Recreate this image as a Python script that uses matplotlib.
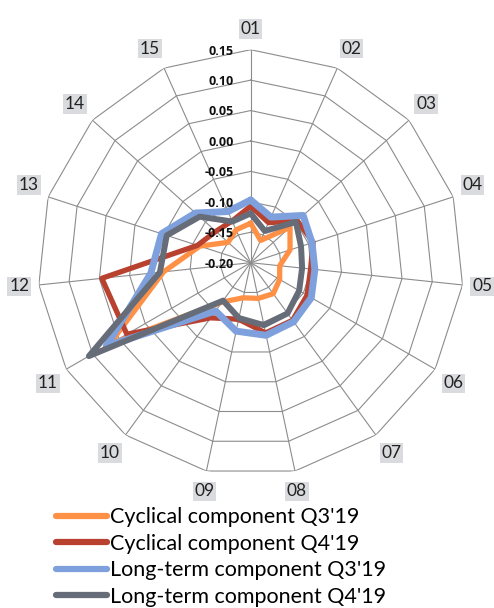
import numpy as np
import matplotlib
matplotlib.use("Agg")
import matplotlib.pyplot as plt

plt.rcParams["font.family"] = ["Lato", "DejaVu Sans"]

# data
categories = ["01", "02", "03", "04", "05", "06", "07", "08",
              "09", "10", "11", "12", "13", "14", "15"]
cyclical_q3 = [-0.135, -0.160, -0.113, -0.132, -0.152, -0.145, -0.137, -0.140,
               -0.141, -0.120, 0.068, -0.056, -0.112, -0.150, -0.141]
cyclical_q4 = [-0.107, -0.128, -0.097, -0.092, -0.101, -0.093, -0.083, -0.082,
               -0.105, -0.088, 0.035, 0.046, -0.108, -0.123, -0.125]
longterm_q3 = [-0.097, -0.118, -0.084, -0.094, -0.094, -0.085, -0.080, -0.078,
               -0.085, -0.102, 0.074, -0.035, -0.046, -0.078, -0.108]
longterm_q4 = [-0.119, -0.143, -0.100, -0.113, -0.115, -0.108, -0.097, -0.095,
               -0.107, -0.123, 0.107, -0.050, -0.055, -0.087, -0.126]
ring_values = [-0.20, -0.15, -0.10, -0.05, 0.00, 0.05, 0.10, 0.15]
series_labels = ["Cyclical component Q3'19", "Cyclical component Q4'19",
                 "Long-term component Q3'19", "Long-term component Q4'19"]

series = [cyclical_q3, cyclical_q4, longterm_q3, longterm_q4]
colors = ["#FF9147", "#B8412F", "#7EA0DC", "#676D78"]
widths = [3.8, 3.8, 5.0, 4.3]

n = len(categories)
theta = np.arange(n) * 2 * np.pi / n
theta_c = np.append(theta, theta[0])
rmin, rmax = ring_values[0], ring_values[-1]

fig = plt.figure(figsize=(4.94, 6.08), dpi=100)
ax = fig.add_axes([0.0763, 0.2176, 0.8623, 0.7007], projection="polar")
ax.set_theta_zero_location("N")
ax.set_theta_direction(-1)
ax.set_ylim(rmin, rmax)
ax.grid(False)
ax.spines["polar"].set_visible(False)
ax.set_xticks([])
ax.set_yticks([])

grid_col = "#8C8C8C"
for v in ring_values[1:]:
    ax.plot(theta_c, [v] * (n + 1), color=grid_col, lw=0.8, zorder=1)
for t in theta:
    ax.plot([t, t], [rmin, rmax], color=grid_col, lw=0.8, zorder=1)

lines = []
for vals, col, lw, lab in zip(series, colors, widths, series_labels):
    (ln,) = ax.plot(theta_c, np.append(vals, vals[0]), color=col, lw=lw,
                    solid_joinstyle="round", solid_capstyle="round",
                    label=lab, zorder=3)
    lines.append(ln)

# radial value labels along the top spoke
for v in ring_values:
    ax.annotate(f"{v:.2f}", xy=(0, v), xytext=(-12, -1), textcoords="offset points",
                ha="right", va="center", fontsize=9, fontweight="bold",
                family=["Open Sans", "DejaVu Sans"], color="#111111", zorder=5)

# category labels in grey boxes
for t, lab in zip(theta, categories):
    s, c = np.sin(t), np.cos(t)
    ha = "left" if s > 0.3 else ("right" if s < -0.3 else "center")
    va = "bottom" if c > 0.3 else ("top" if c < -0.3 else "center")
    ax.annotate(lab, xy=(t, rmax), xytext=(7 * s, 9 * c), textcoords="offset points",
                ha=ha, va=va, fontsize=12.5, color="#222222",
                bbox=dict(boxstyle="square,pad=0.1", fc="#DADBDE", ec="none"),
                annotation_clip=False)

leg = fig.legend(handles=lines, loc="upper left", bbox_to_anchor=(0.095, 0.18),
                 frameon=False, fontsize=15.5, handlelength=2.4, handletextpad=0.12,
                 labelspacing=0.3, borderaxespad=0)
for h in leg.get_lines():
    h.set_linewidth(4.5)
    h.set_solid_capstyle("round")

fig.savefig("out.png", dpi=100)
